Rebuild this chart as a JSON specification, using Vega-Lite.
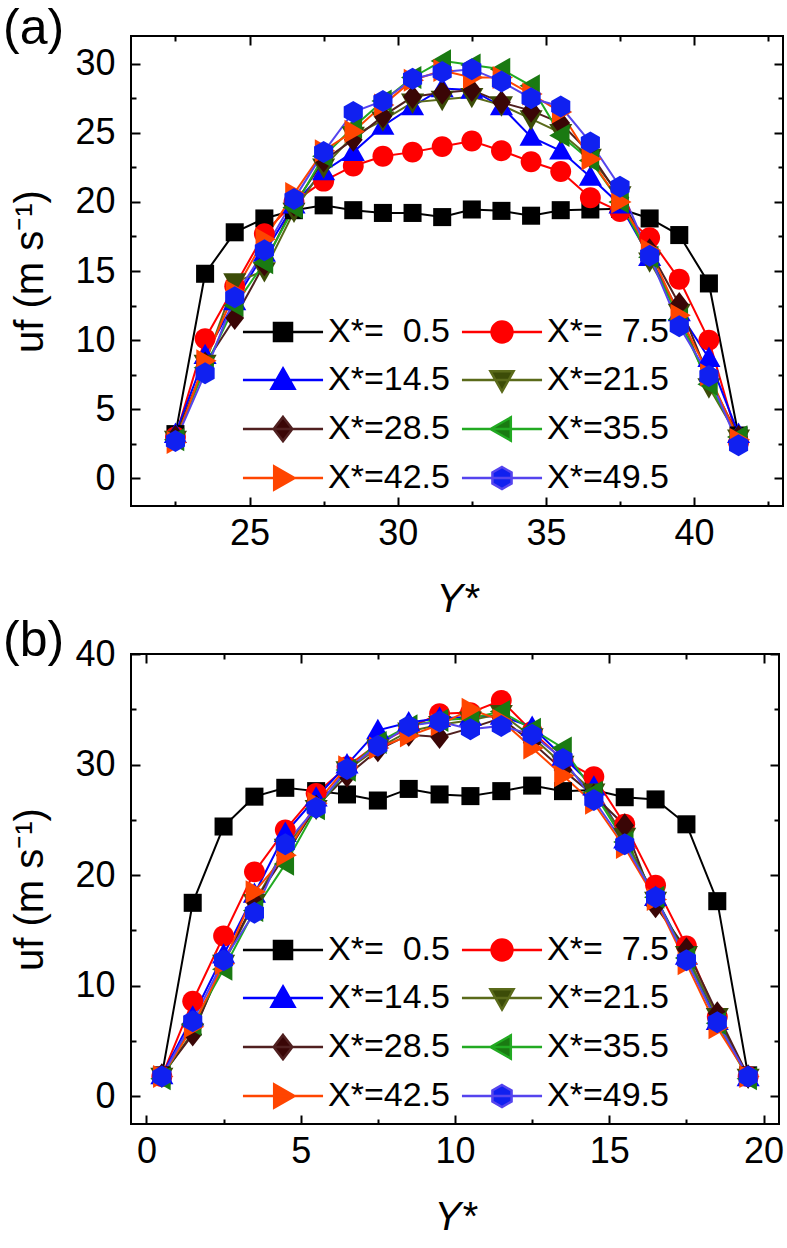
{
"$schema": "https://vega.github.io/schema/vega-lite/v6.json",
"padding": {"left": 2, "top": 3, "right": 0, "bottom": 0},
"background": "white",
"datasets": {
"a": [
{"X":"0.5","Y":22.5,"uf":3.2},{"X":"0.5","Y":23.5,"uf":14.8},{"X":"0.5","Y":24.5,"uf":17.8},{"X":"0.5","Y":25.5,"uf":18.8},{"X":"0.5","Y":26.5,"uf":19.4},{"X":"0.5","Y":27.5,"uf":19.75},{"X":"0.5","Y":28.5,"uf":19.4},{"X":"0.5","Y":29.5,"uf":19.2},{"X":"0.5","Y":30.5,"uf":19.2},{"X":"0.5","Y":31.5,"uf":18.9},{"X":"0.5","Y":32.5,"uf":19.45},{"X":"0.5","Y":33.5,"uf":19.35},{"X":"0.5","Y":34.5,"uf":19.0},{"X":"0.5","Y":35.5,"uf":19.4},{"X":"0.5","Y":36.5,"uf":19.45},{"X":"0.5","Y":37.5,"uf":19.5},{"X":"0.5","Y":38.5,"uf":18.8},{"X":"0.5","Y":39.5,"uf":17.6},{"X":"0.5","Y":40.5,"uf":14.1},{"X":"0.5","Y":41.5,"uf":3.1},
{"X":"7.5","Y":22.5,"uf":3.0},{"X":"7.5","Y":23.5,"uf":10.1},{"X":"7.5","Y":24.5,"uf":13.9},{"X":"7.5","Y":25.5,"uf":17.7},{"X":"7.5","Y":26.5,"uf":20.0},{"X":"7.5","Y":27.5,"uf":21.5},{"X":"7.5","Y":28.5,"uf":22.6},{"X":"7.5","Y":29.5,"uf":23.3},{"X":"7.5","Y":30.5,"uf":23.6},{"X":"7.5","Y":31.5,"uf":24.0},{"X":"7.5","Y":32.5,"uf":24.4},{"X":"7.5","Y":33.5,"uf":23.7},{"X":"7.5","Y":34.5,"uf":22.9},{"X":"7.5","Y":35.5,"uf":22.2},{"X":"7.5","Y":36.5,"uf":20.3},{"X":"7.5","Y":37.5,"uf":19.3},{"X":"7.5","Y":38.5,"uf":17.4},{"X":"7.5","Y":39.5,"uf":14.4},{"X":"7.5","Y":40.5,"uf":10.0},{"X":"7.5","Y":41.5,"uf":2.6},
{"X":"14.5","Y":22.5,"uf":3.2},{"X":"14.5","Y":23.5,"uf":8.9},{"X":"14.5","Y":24.5,"uf":12.8},{"X":"14.5","Y":25.5,"uf":16.3},{"X":"14.5","Y":26.5,"uf":19.8},{"X":"14.5","Y":27.5,"uf":22.2},{"X":"14.5","Y":28.5,"uf":23.6},{"X":"14.5","Y":29.5,"uf":25.5},{"X":"14.5","Y":30.5,"uf":26.9},{"X":"14.5","Y":31.5,"uf":28.2},{"X":"14.5","Y":32.5,"uf":28.1},{"X":"14.5","Y":33.5,"uf":26.9},{"X":"14.5","Y":34.5,"uf":24.7},{"X":"14.5","Y":35.5,"uf":23.7},{"X":"14.5","Y":36.5,"uf":21.8},{"X":"14.5","Y":37.5,"uf":19.8},{"X":"14.5","Y":38.5,"uf":16.0},{"X":"14.5","Y":39.5,"uf":12.0},{"X":"14.5","Y":40.5,"uf":8.7},{"X":"14.5","Y":41.5,"uf":3.2},
{"X":"21.5","Y":22.5,"uf":2.8},{"X":"21.5","Y":23.5,"uf":8.3},{"X":"21.5","Y":24.5,"uf":14.2},{"X":"21.5","Y":25.5,"uf":15.0},{"X":"21.5","Y":26.5,"uf":19.3},{"X":"21.5","Y":27.5,"uf":22.5},{"X":"21.5","Y":28.5,"uf":24.8},{"X":"21.5","Y":29.5,"uf":25.9},{"X":"21.5","Y":30.5,"uf":27.2},{"X":"21.5","Y":31.5,"uf":27.4},{"X":"21.5","Y":32.5,"uf":27.6},{"X":"21.5","Y":33.5,"uf":27.0},{"X":"21.5","Y":34.5,"uf":26.0},{"X":"21.5","Y":35.5,"uf":25.0},{"X":"21.5","Y":36.5,"uf":23.2},{"X":"21.5","Y":37.5,"uf":20.5},{"X":"21.5","Y":38.5,"uf":15.7},{"X":"21.5","Y":39.5,"uf":12.0},{"X":"21.5","Y":40.5,"uf":6.6},{"X":"21.5","Y":41.5,"uf":2.9},
{"X":"28.5","Y":22.5,"uf":3.0},{"X":"28.5","Y":23.5,"uf":8.3},{"X":"28.5","Y":24.5,"uf":11.6},{"X":"28.5","Y":25.5,"uf":15.5},{"X":"28.5","Y":26.5,"uf":19.8},{"X":"28.5","Y":27.5,"uf":23.0},{"X":"28.5","Y":28.5,"uf":24.5},{"X":"28.5","Y":29.5,"uf":26.2},{"X":"28.5","Y":30.5,"uf":27.6},{"X":"28.5","Y":31.5,"uf":27.9},{"X":"28.5","Y":32.5,"uf":28.1},{"X":"28.5","Y":33.5,"uf":27.2},{"X":"28.5","Y":34.5,"uf":26.6},{"X":"28.5","Y":35.5,"uf":25.7},{"X":"28.5","Y":36.5,"uf":23.5},{"X":"28.5","Y":37.5,"uf":20.3},{"X":"28.5","Y":38.5,"uf":16.5},{"X":"28.5","Y":39.5,"uf":12.6},{"X":"28.5","Y":40.5,"uf":7.3},{"X":"28.5","Y":41.5,"uf":3.0},
{"X":"35.5","Y":22.5,"uf":2.8},{"X":"35.5","Y":23.5,"uf":8.0},{"X":"35.5","Y":24.5,"uf":12.5},{"X":"35.5","Y":25.5,"uf":15.6},{"X":"35.5","Y":26.5,"uf":19.6},{"X":"35.5","Y":27.5,"uf":23.3},{"X":"35.5","Y":28.5,"uf":25.4},{"X":"35.5","Y":29.5,"uf":27.3},{"X":"35.5","Y":30.5,"uf":29.0},{"X":"35.5","Y":31.5,"uf":30.2},{"X":"35.5","Y":32.5,"uf":29.9},{"X":"35.5","Y":33.5,"uf":29.6},{"X":"35.5","Y":34.5,"uf":28.4},{"X":"35.5","Y":35.5,"uf":24.8},{"X":"35.5","Y":36.5,"uf":23.0},{"X":"35.5","Y":37.5,"uf":20.0},{"X":"35.5","Y":38.5,"uf":16.0},{"X":"35.5","Y":39.5,"uf":11.5},{"X":"35.5","Y":40.5,"uf":6.8},{"X":"35.5","Y":41.5,"uf":3.0},
{"X":"42.5","Y":22.5,"uf":2.6},{"X":"42.5","Y":23.5,"uf":8.5},{"X":"42.5","Y":24.5,"uf":13.5},{"X":"42.5","Y":25.5,"uf":17.3},{"X":"42.5","Y":26.5,"uf":20.6},{"X":"42.5","Y":27.5,"uf":23.7},{"X":"42.5","Y":28.5,"uf":25.1},{"X":"42.5","Y":29.5,"uf":27.0},{"X":"42.5","Y":30.5,"uf":28.8},{"X":"42.5","Y":31.5,"uf":29.5},{"X":"42.5","Y":32.5,"uf":29.0},{"X":"42.5","Y":33.5,"uf":29.0},{"X":"42.5","Y":34.5,"uf":27.8},{"X":"42.5","Y":35.5,"uf":26.5},{"X":"42.5","Y":36.5,"uf":23.1},{"X":"42.5","Y":37.5,"uf":20.0},{"X":"42.5","Y":38.5,"uf":16.5},{"X":"42.5","Y":39.5,"uf":11.8},{"X":"42.5","Y":40.5,"uf":7.5},{"X":"42.5","Y":41.5,"uf":2.8},
{"X":"49.5","Y":22.5,"uf":2.7},{"X":"49.5","Y":23.5,"uf":7.6},{"X":"49.5","Y":24.5,"uf":13.1},{"X":"49.5","Y":25.5,"uf":16.5},{"X":"49.5","Y":26.5,"uf":20.2},{"X":"49.5","Y":27.5,"uf":23.6},{"X":"49.5","Y":28.5,"uf":26.5},{"X":"49.5","Y":29.5,"uf":27.3},{"X":"49.5","Y":30.5,"uf":28.9},{"X":"49.5","Y":31.5,"uf":29.4},{"X":"49.5","Y":32.5,"uf":29.6},{"X":"49.5","Y":33.5,"uf":28.7},{"X":"49.5","Y":34.5,"uf":27.5},{"X":"49.5","Y":35.5,"uf":26.9},{"X":"49.5","Y":36.5,"uf":24.3},{"X":"49.5","Y":37.5,"uf":21.1},{"X":"49.5","Y":38.5,"uf":16.1},{"X":"49.5","Y":39.5,"uf":11.0},{"X":"49.5","Y":40.5,"uf":7.4},{"X":"49.5","Y":41.5,"uf":2.4}
],
"b": [
{"X":"0.5","Y":0.5,"uf":1.9},{"X":"0.5","Y":1.5,"uf":17.5},{"X":"0.5","Y":2.5,"uf":24.4},{"X":"0.5","Y":3.5,"uf":27.1},{"X":"0.5","Y":4.5,"uf":27.9},{"X":"0.5","Y":5.5,"uf":27.6},{"X":"0.5","Y":6.5,"uf":27.3},{"X":"0.5","Y":7.5,"uf":26.75},{"X":"0.5","Y":8.5,"uf":27.8},{"X":"0.5","Y":9.5,"uf":27.3},{"X":"0.5","Y":10.5,"uf":27.15},{"X":"0.5","Y":11.5,"uf":27.6},{"X":"0.5","Y":12.5,"uf":28.1},{"X":"0.5","Y":13.5,"uf":27.6},{"X":"0.5","Y":14.5,"uf":27.7},{"X":"0.5","Y":15.5,"uf":27.05},{"X":"0.5","Y":16.5,"uf":26.85},{"X":"0.5","Y":17.5,"uf":24.6},{"X":"0.5","Y":18.5,"uf":17.65},{"X":"0.5","Y":19.5,"uf":1.9},
{"X":"7.5","Y":0.5,"uf":1.8},{"X":"7.5","Y":1.5,"uf":8.6},{"X":"7.5","Y":2.5,"uf":14.5},{"X":"7.5","Y":3.5,"uf":20.3},{"X":"7.5","Y":4.5,"uf":24.1},{"X":"7.5","Y":5.5,"uf":27.4},{"X":"7.5","Y":6.5,"uf":29.8},{"X":"7.5","Y":7.5,"uf":31.9},{"X":"7.5","Y":8.5,"uf":33.3},{"X":"7.5","Y":9.5,"uf":34.6},{"X":"7.5","Y":10.5,"uf":34.7},{"X":"7.5","Y":11.5,"uf":35.8},{"X":"7.5","Y":12.5,"uf":33.0},{"X":"7.5","Y":13.5,"uf":30.4},{"X":"7.5","Y":14.5,"uf":28.9},{"X":"7.5","Y":15.5,"uf":24.6},{"X":"7.5","Y":16.5,"uf":19.1},{"X":"7.5","Y":17.5,"uf":13.6},{"X":"7.5","Y":18.5,"uf":7.2},{"X":"7.5","Y":19.5,"uf":1.8},
{"X":"14.5","Y":0.5,"uf":1.9},{"X":"14.5","Y":1.5,"uf":7.2},{"X":"14.5","Y":2.5,"uf":12.8},{"X":"14.5","Y":3.5,"uf":18.3},{"X":"14.5","Y":4.5,"uf":23.8},{"X":"14.5","Y":5.5,"uf":27.0},{"X":"14.5","Y":6.5,"uf":30.0},{"X":"14.5","Y":7.5,"uf":33.1},{"X":"14.5","Y":8.5,"uf":33.8},{"X":"14.5","Y":9.5,"uf":34.2},{"X":"14.5","Y":10.5,"uf":34.3},{"X":"14.5","Y":11.5,"uf":34.4},{"X":"14.5","Y":12.5,"uf":33.4},{"X":"14.5","Y":13.5,"uf":30.7},{"X":"14.5","Y":14.5,"uf":28.0},{"X":"14.5","Y":15.5,"uf":23.2},{"X":"14.5","Y":16.5,"uf":18.0},{"X":"14.5","Y":17.5,"uf":12.7},{"X":"14.5","Y":18.5,"uf":6.8},{"X":"14.5","Y":19.5,"uf":1.7},
{"X":"21.5","Y":0.5,"uf":1.8},{"X":"21.5","Y":1.5,"uf":5.8},{"X":"21.5","Y":2.5,"uf":12.0},{"X":"21.5","Y":3.5,"uf":17.5},{"X":"21.5","Y":4.5,"uf":22.5},{"X":"21.5","Y":5.5,"uf":26.0},{"X":"21.5","Y":6.5,"uf":29.5},{"X":"21.5","Y":7.5,"uf":31.5},{"X":"21.5","Y":8.5,"uf":33.0},{"X":"21.5","Y":9.5,"uf":33.6},{"X":"21.5","Y":10.5,"uf":34.0},{"X":"21.5","Y":11.5,"uf":34.6},{"X":"21.5","Y":12.5,"uf":32.5},{"X":"21.5","Y":13.5,"uf":30.0},{"X":"21.5","Y":14.5,"uf":27.5},{"X":"21.5","Y":15.5,"uf":23.5},{"X":"21.5","Y":16.5,"uf":17.7},{"X":"21.5","Y":17.5,"uf":12.8},{"X":"21.5","Y":18.5,"uf":7.2},{"X":"21.5","Y":19.5,"uf":1.7},
{"X":"28.5","Y":0.5,"uf":1.9},{"X":"28.5","Y":1.5,"uf":5.6},{"X":"28.5","Y":2.5,"uf":12.2},{"X":"28.5","Y":3.5,"uf":17.6},{"X":"28.5","Y":4.5,"uf":21.8},{"X":"28.5","Y":5.5,"uf":26.2},{"X":"28.5","Y":6.5,"uf":29.0},{"X":"28.5","Y":7.5,"uf":31.3},{"X":"28.5","Y":8.5,"uf":32.7},{"X":"28.5","Y":9.5,"uf":32.5},{"X":"28.5","Y":10.5,"uf":33.3},{"X":"28.5","Y":11.5,"uf":34.2},{"X":"28.5","Y":12.5,"uf":32.0},{"X":"28.5","Y":13.5,"uf":29.5},{"X":"28.5","Y":14.5,"uf":27.2},{"X":"28.5","Y":15.5,"uf":24.5},{"X":"28.5","Y":16.5,"uf":17.2},{"X":"28.5","Y":17.5,"uf":13.3},{"X":"28.5","Y":18.5,"uf":7.5},{"X":"28.5","Y":19.5,"uf":1.8},
{"X":"35.5","Y":0.5,"uf":1.6},{"X":"35.5","Y":1.5,"uf":6.5},{"X":"35.5","Y":2.5,"uf":11.5},{"X":"35.5","Y":3.5,"uf":16.8},{"X":"35.5","Y":4.5,"uf":21.0},{"X":"35.5","Y":5.5,"uf":26.0},{"X":"35.5","Y":6.5,"uf":29.5},{"X":"35.5","Y":7.5,"uf":32.0},{"X":"35.5","Y":8.5,"uf":33.5},{"X":"35.5","Y":9.5,"uf":34.0},{"X":"35.5","Y":10.5,"uf":34.2},{"X":"35.5","Y":11.5,"uf":34.8},{"X":"35.5","Y":12.5,"uf":33.2},{"X":"35.5","Y":13.5,"uf":31.5},{"X":"35.5","Y":14.5,"uf":27.5},{"X":"35.5","Y":15.5,"uf":23.0},{"X":"35.5","Y":16.5,"uf":18.0},{"X":"35.5","Y":17.5,"uf":12.5},{"X":"35.5","Y":18.5,"uf":6.6},{"X":"35.5","Y":19.5,"uf":1.6},
{"X":"42.5","Y":0.5,"uf":1.8},{"X":"42.5","Y":1.5,"uf":6.3},{"X":"42.5","Y":2.5,"uf":12.0},{"X":"42.5","Y":3.5,"uf":18.5},{"X":"42.5","Y":4.5,"uf":21.8},{"X":"42.5","Y":5.5,"uf":26.5},{"X":"42.5","Y":6.5,"uf":29.8},{"X":"42.5","Y":7.5,"uf":31.5},{"X":"42.5","Y":8.5,"uf":32.6},{"X":"42.5","Y":9.5,"uf":33.6},{"X":"42.5","Y":10.5,"uf":35.0},{"X":"42.5","Y":11.5,"uf":34.0},{"X":"42.5","Y":12.5,"uf":31.5},{"X":"42.5","Y":13.5,"uf":29.0},{"X":"42.5","Y":14.5,"uf":26.5},{"X":"42.5","Y":15.5,"uf":22.5},{"X":"42.5","Y":16.5,"uf":17.8},{"X":"42.5","Y":17.5,"uf":12.0},{"X":"42.5","Y":18.5,"uf":6.2},{"X":"42.5","Y":19.5,"uf":1.8},
{"X":"49.5","Y":0.5,"uf":1.8},{"X":"49.5","Y":1.5,"uf":6.8},{"X":"49.5","Y":2.5,"uf":12.3},{"X":"49.5","Y":3.5,"uf":16.6},{"X":"49.5","Y":4.5,"uf":22.8},{"X":"49.5","Y":5.5,"uf":26.1},{"X":"49.5","Y":6.5,"uf":29.6},{"X":"49.5","Y":7.5,"uf":31.7},{"X":"49.5","Y":8.5,"uf":33.5},{"X":"49.5","Y":9.5,"uf":33.9},{"X":"49.5","Y":10.5,"uf":33.2},{"X":"49.5","Y":11.5,"uf":33.5},{"X":"49.5","Y":12.5,"uf":32.7},{"X":"49.5","Y":13.5,"uf":30.5},{"X":"49.5","Y":14.5,"uf":26.8},{"X":"49.5","Y":15.5,"uf":22.8},{"X":"49.5","Y":16.5,"uf":18.0},{"X":"49.5","Y":17.5,"uf":12.3},{"X":"49.5","Y":18.5,"uf":6.7},{"X":"49.5","Y":19.5,"uf":1.8}
]
},
"spacing": -5,
"vconcat": [
{
"width": 652, "height": 470,
"data": {"name": "a"},
"title": {"text": "(a)", "anchor": "start", "frame": "group", "dx": -128, "dy": 12, "offset": -47, "baseline": "alphabetic", "fontSize": 50, "font": "Liberation Sans", "fontWeight": "normal", "color": "black"},
"layer": [
{"mark": {"type": "line", "strokeWidth": 2},
 "encoding": {
  "x": {"field": "Y", "type": "quantitative", "scale": {"domain": [21, 43], "nice": false, "zero": false},
        "axis": {"orient": "bottom", "values": [22.5,25,27.5,30,32.5,35,37.5,40,42.5], "labelExpr": "datum.value % 5 === 0 ? datum.label : ''", "tickSize": {"condition": {"test": "datum.value % 5 === 0", "value": -9}, "value": -5}, "labelPadding": 19, "title": "Y*", "titleFontStyle": "italic", "titleFontSize": 40, "titlePadding": 28}},
  "y": {"field": "uf", "type": "quantitative", "scale": {"domain": [-2, 32], "nice": false, "zero": false},
        "axis": {"orient": "left", "values": [0,2.5,5,7.5,10,12.5,15,17.5,20,22.5,25,27.5,30], "labelExpr": "datum.value % 5 === 0 ? datum.label : ''", "tickSize": {"condition": {"test": "datum.value % 5 === 0", "value": -9}, "value": -5}, "labelPadding": 25, "title": "uf (m s⁻¹)", "titleFontSize": 40, "titlePadding": 24}},
  "color": {"field": "X", "type": "nominal", "legend": null, "scale": {"domain": ["0.5","7.5","14.5","21.5","28.5","35.5","42.5","49.5"], "range": ["#000000","#ff0000","#0000ff","#5a6a1a","#502020","#22aa22","#ff4500","#5544ee"]}}
 }},
{"mark": {"type": "point", "filled": true, "size": 484, "opacity": 1},
 "encoding": {
  "x": {"field": "Y", "type": "quantitative", "axis": {"orient": "top", "values": [22.5,25,27.5,30,32.5,35,37.5,40,42.5], "labels": false, "tickSize": {"condition": {"test": "datum.value % 5 === 0", "value": -9}, "value": -5}, "title": null}},
  "y": {"field": "uf", "type": "quantitative", "axis": {"orient": "right", "values": [0,2.5,5,7.5,10,12.5,15,17.5,20,22.5,25,27.5,30], "labels": false, "tickSize": {"condition": {"test": "datum.value % 5 === 0", "value": -9}, "value": -5}, "title": null}},
  "color": {"field": "X", "type": "nominal", "legend": null, "scale": {"domain": ["0.5","7.5","14.5","21.5","28.5","35.5","42.5","49.5"], "range": ["#000000","#ff0000","#0000ff","#3c4c08","#3a0606","#1a7a12","#ff4500","#1020f0"]}},
  "shape": {"field": "X", "type": "nominal", "legend": null, "scale": {"domain": ["0.5","7.5","14.5","21.5","28.5","35.5","42.5","49.5"], "range": [
    "M-0.82,-0.82H0.82V0.82H-0.82Z",
    "M-0.95,0A0.95,0.95 0 1,0 0.95,0A0.95,0.95 0 1,0 -0.95,0Z",
    "M0,-1.05L1.05,0.8H-1.05Z",
    "M0,1.05L1.05,-0.8H-1.05Z",
    "M0,-1.1L0.85,0L0,1.1L-0.85,0Z",
    "M-1.05,0L0.8,-1.05V1.05Z",
    "M1.05,0L-0.8,-1.05V1.05Z",
    "M0,-1L0.87,-0.5V0.5L0,1L-0.87,0.5V-0.5Z"]}}
 }},
{"transform": [{"filter": "false"}],
 "mark": {"type": "point", "filled": true},
 "encoding": {
  "x": {"field": "Y", "type": "quantitative", "axis": null},
  "y": {"field": "uf", "type": "quantitative", "axis": null},
  "color": {"field": "X", "type": "nominal", "legend": {"title": null, "labelExpr": "'X*=' + (length(datum.label) < 4 ? '\u00a0\u00a0' : '') + datum.label"}, "scale": {"domain": ["0.5","7.5","14.5","21.5","28.5","35.5","42.5","49.5"], "range": ["#000000","#ff0000","#0000ff","#3c4c08","#3a0606","#1a7a12","#ff4500","#1020f0"]}},
  "stroke": {"field": "X", "type": "nominal", "legend": {"title": null, "labelExpr": "'X*=' + (length(datum.label) < 4 ? '\u00a0\u00a0' : '') + datum.label"}, "scale": {"domain": ["0.5","7.5","14.5","21.5","28.5","35.5","42.5","49.5"], "range": ["#000000","#ff0000","#0000ff","#5a6a1a","#502020","#22aa22","#ff4500","#5544ee"]}},
  "shape": {"field": "X", "type": "nominal", "legend": {"title": null, "labelExpr": "'X*=' + (length(datum.label) < 4 ? '\u00a0\u00a0' : '') + datum.label"}, "scale": {"domain": ["0.5","7.5","14.5","21.5","28.5","35.5","42.5","49.5"], "range": [
    "M-3.64,0H3.64M-0.82,-0.82H0.82V0.82H-0.82Z",
    "M-3.64,0H3.64M-0.95,0A0.95,0.95 0 1,0 0.95,0A0.95,0.95 0 1,0 -0.95,0Z",
    "M-3.64,0H3.64M0,-1.05L1.05,0.8H-1.05Z",
    "M-3.64,0H3.64M0,1.05L1.05,-0.8H-1.05Z",
    "M-3.64,0H3.64M0,-1.1L0.85,0L0,1.1L-0.85,0Z",
    "M-3.64,0H3.64M-1.05,0L0.8,-1.05V1.05Z",
    "M-3.64,0H3.64M1.05,0L-0.8,-1.05V1.05Z",
    "M-3.64,0H3.64M0,-1L0.87,-0.5V0.5L0,1L-0.87,0.5V-0.5Z"]}}
 }}
],
"resolve": {"scale": {"color": "independent", "shape": "independent", "stroke": "independent"}, "axis": {"x": "independent", "y": "independent"}}
},
{
"width": 648, "height": 470,
"data": {"name": "b"},
"title": {"text": "(b)", "anchor": "start", "frame": "group", "dx": -128, "dy": 22, "offset": -48, "baseline": "alphabetic", "fontSize": 50, "font": "Liberation Sans", "fontWeight": "normal", "color": "black"},
"layer": [
{"mark": {"type": "line", "strokeWidth": 2},
 "encoding": {
  "x": {"field": "Y", "type": "quantitative", "scale": {"domain": [-0.5, 20.5], "nice": false, "zero": false},
        "axis": {"orient": "bottom", "values": [0,2.5,5,7.5,10,12.5,15,17.5,20], "labelExpr": "datum.value % 5 === 0 ? datum.label : ''", "tickSize": {"condition": {"test": "datum.value % 5 === 0", "value": -9}, "value": -5}, "labelPadding": 19, "title": "Y*", "titleFontStyle": "italic", "titleFontSize": 40, "titlePadding": 28}},
  "y": {"field": "uf", "type": "quantitative", "scale": {"domain": [-2.5, 40], "nice": false, "zero": false},
        "axis": {"orient": "left", "values": [0,5,10,15,20,25,30,35,40], "labelExpr": "datum.value % 10 === 0 ? datum.label : ''", "tickSize": {"condition": {"test": "datum.value % 10 === 0", "value": -9}, "value": -5}, "labelPadding": 25, "title": "uf (m s⁻¹)", "titleFontSize": 40, "titlePadding": 24}},
  "color": {"field": "X", "type": "nominal", "legend": null, "scale": {"domain": ["0.5","7.5","14.5","21.5","28.5","35.5","42.5","49.5"], "range": ["#000000","#ff0000","#0000ff","#5a6a1a","#502020","#22aa22","#ff4500","#5544ee"]}}
 }},
{"mark": {"type": "point", "filled": true, "size": 484, "opacity": 1},
 "encoding": {
  "x": {"field": "Y", "type": "quantitative", "axis": {"orient": "top", "values": [0,2.5,5,7.5,10,12.5,15,17.5,20], "labels": false, "tickSize": {"condition": {"test": "datum.value % 5 === 0", "value": -9}, "value": -5}, "title": null}},
  "y": {"field": "uf", "type": "quantitative", "axis": {"orient": "right", "values": [0,5,10,15,20,25,30,35,40], "labels": false, "tickSize": {"condition": {"test": "datum.value % 10 === 0", "value": -9}, "value": -5}, "title": null}},
  "color": {"field": "X", "type": "nominal", "legend": null, "scale": {"domain": ["0.5","7.5","14.5","21.5","28.5","35.5","42.5","49.5"], "range": ["#000000","#ff0000","#0000ff","#3c4c08","#3a0606","#1a7a12","#ff4500","#1020f0"]}},
  "shape": {"field": "X", "type": "nominal", "legend": null, "scale": {"domain": ["0.5","7.5","14.5","21.5","28.5","35.5","42.5","49.5"], "range": [
    "M-0.82,-0.82H0.82V0.82H-0.82Z",
    "M-0.95,0A0.95,0.95 0 1,0 0.95,0A0.95,0.95 0 1,0 -0.95,0Z",
    "M0,-1.05L1.05,0.8H-1.05Z",
    "M0,1.05L1.05,-0.8H-1.05Z",
    "M0,-1.1L0.85,0L0,1.1L-0.85,0Z",
    "M-1.05,0L0.8,-1.05V1.05Z",
    "M1.05,0L-0.8,-1.05V1.05Z",
    "M0,-1L0.87,-0.5V0.5L0,1L-0.87,0.5V-0.5Z"]}}
 }},
{"transform": [{"filter": "false"}],
 "mark": {"type": "point", "filled": true},
 "encoding": {
  "x": {"field": "Y", "type": "quantitative", "axis": null},
  "y": {"field": "uf", "type": "quantitative", "axis": null},
  "color": {"field": "X", "type": "nominal", "legend": {"title": null, "labelExpr": "'X*=' + (length(datum.label) < 4 ? '\u00a0\u00a0' : '') + datum.label"}, "scale": {"domain": ["0.5","7.5","14.5","21.5","28.5","35.5","42.5","49.5"], "range": ["#000000","#ff0000","#0000ff","#3c4c08","#3a0606","#1a7a12","#ff4500","#1020f0"]}},
  "stroke": {"field": "X", "type": "nominal", "legend": {"title": null, "labelExpr": "'X*=' + (length(datum.label) < 4 ? '\u00a0\u00a0' : '') + datum.label"}, "scale": {"domain": ["0.5","7.5","14.5","21.5","28.5","35.5","42.5","49.5"], "range": ["#000000","#ff0000","#0000ff","#5a6a1a","#502020","#22aa22","#ff4500","#5544ee"]}},
  "shape": {"field": "X", "type": "nominal", "legend": {"title": null, "labelExpr": "'X*=' + (length(datum.label) < 4 ? '\u00a0\u00a0' : '') + datum.label"}, "scale": {"domain": ["0.5","7.5","14.5","21.5","28.5","35.5","42.5","49.5"], "range": [
    "M-3.64,0H3.64M-0.82,-0.82H0.82V0.82H-0.82Z",
    "M-3.64,0H3.64M-0.95,0A0.95,0.95 0 1,0 0.95,0A0.95,0.95 0 1,0 -0.95,0Z",
    "M-3.64,0H3.64M0,-1.05L1.05,0.8H-1.05Z",
    "M-3.64,0H3.64M0,1.05L1.05,-0.8H-1.05Z",
    "M-3.64,0H3.64M0,-1.1L0.85,0L0,1.1L-0.85,0Z",
    "M-3.64,0H3.64M-1.05,0L0.8,-1.05V1.05Z",
    "M-3.64,0H3.64M1.05,0L-0.8,-1.05V1.05Z",
    "M-3.64,0H3.64M0,-1L0.87,-0.5V0.5L0,1L-0.87,0.5V-0.5Z"]}}
 }}
],
"resolve": {"scale": {"color": "independent", "shape": "independent", "stroke": "independent"}, "axis": {"x": "independent", "y": "independent"}}
}
],
"config": {
 "view": {"stroke": "black", "strokeWidth": 2},
 "axis": {"grid": false, "domain": false, "labelFont": "Liberation Sans", "labelFontSize": 36, "labelColor": "black", "tickColor": "black", "tickWidth": 2, "titleFont": "Liberation Sans", "titleFontWeight": "normal", "titleColor": "black"},
 "legend": {"orient": "none", "direction": "horizontal", "legendX": 135, "legendY": 279, "columns": 2, "symbolSize": 484, "symbolStrokeWidth": 2.5, "symbolOpacity": 1, "labelFont": "Liberation Sans", "labelFontSize": 34, "labelColor": "black", "labelOffset": 28, "columnPadding": 6, "rowPadding": 14, "padding": 0, "labelLimit": 300}
}
}
